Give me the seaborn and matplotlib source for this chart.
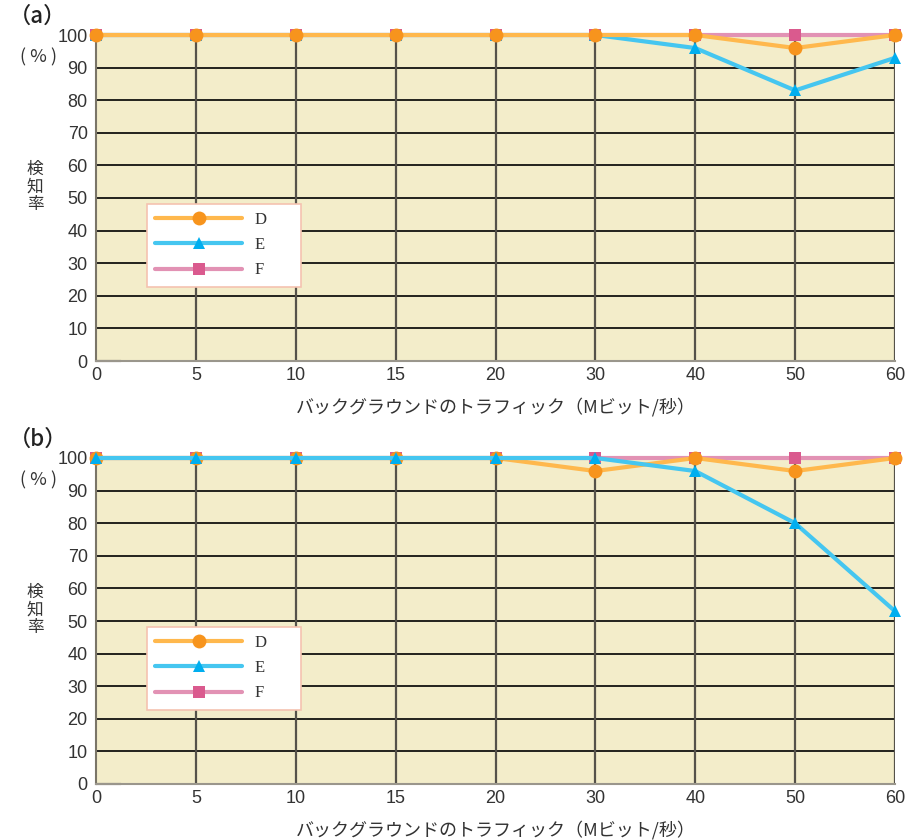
import pandas as pd
import matplotlib
matplotlib.use("Agg")
import matplotlib.pyplot as plt
from matplotlib.lines import Line2D
import seaborn as sns

# Data
traffic = ["0", "5", "10", "15", "20", "30", "40", "50", "60"]
series_names = ["D", "E", "F"]

a_D = [100, 100, 100, 100, 100, 100, 100, 96, 100]
a_E = [100, 100, 100, 100, 100, 100, 96, 83, 93]
a_F = [100, 100, 100, 100, 100, 100, 100, 100, 100]

b_D = [100, 100, 100, 100, 100, 96, 100, 96, 100]
b_E = [100, 100, 100, 100, 100, 100, 96, 80, 53]
b_F = [100, 100, 100, 100, 100, 100, 100, 100, 100]

yticks = [0, 10, 20, 30, 40, 50, 60, 70, 80, 90, 100]
xlabel = "バックグラウンドのトラフィック（Mビット/秒）"

sns.set_theme(style="white")
plt.rcParams['font.family'] = ['Noto Sans CJK JP', 'DejaVu Sans']

styles = {
    "D": dict(line="#FFB84D", mk="#F7941D", marker="o", ms=10),
    "E": dict(line="#45C6F0", mk="#00AEEF", marker="^", ms=9),
    "F": dict(line="#E292B4", mk="#DA5A8E", marker="s", ms=8.5),
}

fig = plt.figure(figsize=(9.13, 8.4), dpi=100)
W, H = 913, 840


def panel(top_px, bottom_px, D, E, F, label, order):
    ax = fig.add_axes([96 / W, 1 - bottom_px / H, 799 / W, (bottom_px - top_px) / H])
    ax.set_facecolor("#F3EDCA")
    df = pd.DataFrame({
        "traffic": traffic * 3,
        "rate": D + E + F,
        "series": ["D"] * 9 + ["E"] * 9 + ["F"] * 9,
    })
    # grid first
    for y in yticks[1:-1]:
        ax.axhline(y, color="black", lw=1.2, zorder=1)
    for i in range(1, len(traffic)):
        ax.axvline(i, color="#55524a", lw=1.6, zorder=1)
    for name in order:
        st = styles[name]
        sub = df[df["series"] == name]
        sns.lineplot(data=sub, x="traffic", y="rate", ax=ax, sort=False,
                     color=st["line"], lw=3, marker=st["marker"],
                     markersize=st["ms"], markerfacecolor=st["mk"],
                     markeredgecolor=st["mk"], markeredgewidth=0,
                     zorder=3, clip_on=False, legend=False)
    ax.set_xlim(0, len(traffic) - 1)
    ax.set_ylim(0, 100)
    ax.set_yticks(yticks)
    ax.set_xticks(range(len(traffic)))
    ax.set_xticklabels(traffic)
    ax.tick_params(axis="both", length=0, labelsize=13, colors="#333333")
    ax.tick_params(axis="y", pad=6)
    ax.tick_params(axis="x", pad=4)
    for lab in ax.get_xticklabels() + ax.get_yticklabels():
        lab.set_fontfamily(["Liberation Sans", "DejaVu Sans"])
    ax.set_xlabel(xlabel, fontsize=13, color="#333333", labelpad=10)
    ax.set_ylabel("")
    for s in ["top", "right"]:
        ax.spines[s].set_visible(False)
    ax.spines["left"].set_color("#7a7568")
    ax.spines["bottom"].set_color("#9a968c")
    ax.spines["left"].set_linewidth(1.5)
    ax.spines["bottom"].set_linewidth(1.5)
    ax.plot([0, 0.25], [0, 0], color="black", lw=1.5, zorder=2, clip_on=False)

    handles = [Line2D([], [], color=styles[n]["line"], lw=3, marker=styles[n]["marker"],
                      markersize=styles[n]["ms"], markerfacecolor=styles[n]["mk"],
                      markeredgewidth=0) for n in series_names]
    leg = ax.legend(handles, [n + " " * 6 for n in series_names], loc="lower left",
                    bbox_to_anchor=(0.064, 0.228), handlelength=5.2,
                    fancybox=False, framealpha=1, borderpad=0.5,
                    labelspacing=0.55, handletextpad=0.8, borderaxespad=0,
                    prop={"family": ["Liberation Serif", "DejaVu Serif"], "size": 12})
    leg.get_frame().set_edgecolor("#F5C2B0")
    leg.get_frame().set_linewidth(1.2)
    for t in leg.get_texts():
        t.set_color("#333333")

    # panel label and y-axis caption
    fig.text(9 / W, 1 - (top_px - 19) / H, label, fontsize=16, color="#222222",
             va="center", ha="left", fontweight="medium")
    fig.text(38 / W, 1 - (top_px + 22) / H, "( % )", fontsize=13, color="#333333",
             va="center", ha="center")
    fig.text(35 / W, 1 - (top_px + 152) / H, "検\n知\n率", fontsize=12,
             color="#333333", va="center", ha="center", linespacing=1.05)
    return ax


panel(35, 361, a_D, a_E, a_F, "（a）", ["F", "E", "D"])
panel(458, 784, b_D, b_E, b_F, "（b）", ["F", "D", "E"])

fig.savefig("out.png", dpi=100)
